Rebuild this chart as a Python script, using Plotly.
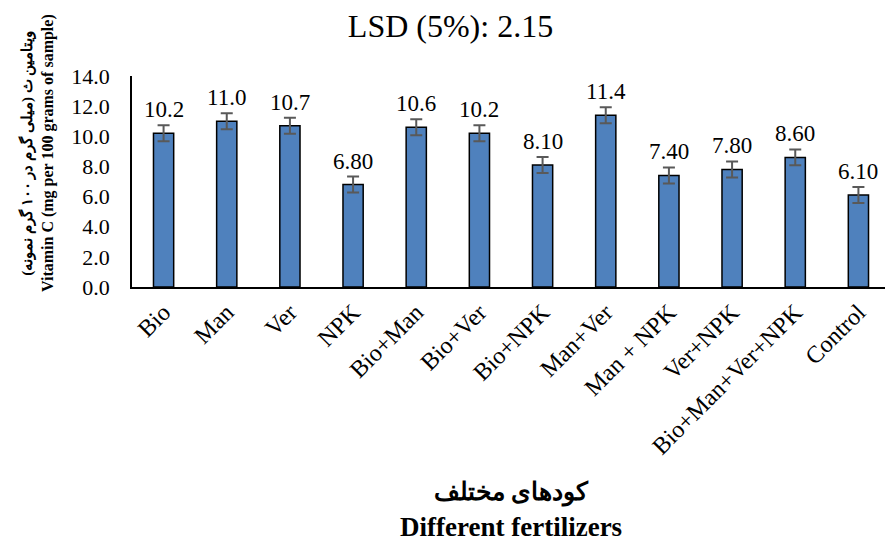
import plotly.graph_objects as go

categories = ["Bio", "Man", "Ver", "NPK", "Bio+Man", "Bio+Ver", "Bio+NPK",
              "Man+Ver", "Man + NPK", "Ver+NPK", "Bio+Man+Ver+NPK", "Control"]
values = [10.2, 11.0, 10.7, 6.80, 10.6, 10.2, 8.10, 11.4, 7.40, 7.80, 8.60, 6.10]
value_labels = ["10.2", "11.0", "10.7", "6.80", "10.6", "10.2", "8.10",
                "11.4", "7.40", "7.80", "8.60", "6.10"]
errors = [0.53] * 12
y_ticks = [0, 2, 4, 6, 8, 10, 12, 14]
y_tick_labels = ["0.0", "2.0", "4.0", "6.0", "8.0", "10.0", "12.0", "14.0"]

title_text = "LSD (5%): 2.15"
y_title_fa = "ویتامین ث (میلی گرم در ۱۰۰ گرم نمونه)"
y_title_en = "Vitamin C (mg per 100 grams of sample)"
x_title_fa = "کودهای مختلف"
x_title_en = "Different fertilizers"

SERIF = "Liberation Serif, serif"

fig = go.Figure()
fig.add_trace(go.Bar(
    x=categories, y=values, width=0.32,
    marker=dict(color="#4F81BD", line=dict(color="black", width=1.5)),
    error_y=dict(type="data", array=errors, symmetric=True,
                 color="#595959", thickness=2, width=6),
    hoverinfo="skip",
))

annotations = []
for c, v, e, t in zip(categories, values, errors, value_labels):
    annotations.append(dict(
        x=c, y=v + e, xref="x", yref="y", text=t, showarrow=False,
        xanchor="center", yanchor="bottom", yshift=1,
        font=dict(family=SERIF, size=23, color="black")))

annotations += [
    dict(text="<span style='font-size:15px'><b>" + y_title_fa + "</b></span><br><b>" + y_title_en + "</b>",
         xref="paper", yref="paper", x=0, y=0.635, xanchor="center", yanchor="middle",
         xshift=-95, textangle=-90, showarrow=False,
         font=dict(family=SERIF, size=16, color="black")),
    dict(text="<b>" + x_title_fa + "</b>",
         xref="paper", yref="paper", x=0.5, y=0, xanchor="center", yanchor="middle",
         yshift=-205, showarrow=False,
         font=dict(family=SERIF, size=25, color="black")),
    dict(text="<b>" + x_title_en + "</b>",
         xref="paper", yref="paper", x=0.5, y=0, xanchor="center", yanchor="middle",
         yshift=-240, showarrow=False,
         font=dict(family=SERIF, size=27, color="black")),
]

fig.update_layout(
    width=885, height=535,
    margin=dict(l=124, r=3, t=68, b=256, autoexpand=False),
    paper_bgcolor="white", plot_bgcolor="white",
    showlegend=False,
    font=dict(family=SERIF, color="black"),
    title=dict(text=title_text, x=0.5, xanchor="center", xref="container",
               y=0.966, yref="container", yanchor="middle", automargin=False,
               font=dict(family=SERIF, size=32, color="black")),
    xaxis=dict(
        tickangle=-45, tickfont=dict(family=SERIF, size=24, color="black"),
        showline=True, linecolor="black", linewidth=1.5,
        showgrid=False, ticks="", zeroline=False, automargin=False,
    ),
    yaxis=dict(
        range=[0, 14], tickvals=y_ticks, ticktext=y_tick_labels,
        tickfont=dict(family=SERIF, size=22, color="black"),
        showline=True, linecolor="black", linewidth=1.5,
        showgrid=False, ticks="", zeroline=False, ticklabelstandoff=16,
        automargin=False,
    ),
    annotations=annotations,
)

fig.write_html("out.html")
